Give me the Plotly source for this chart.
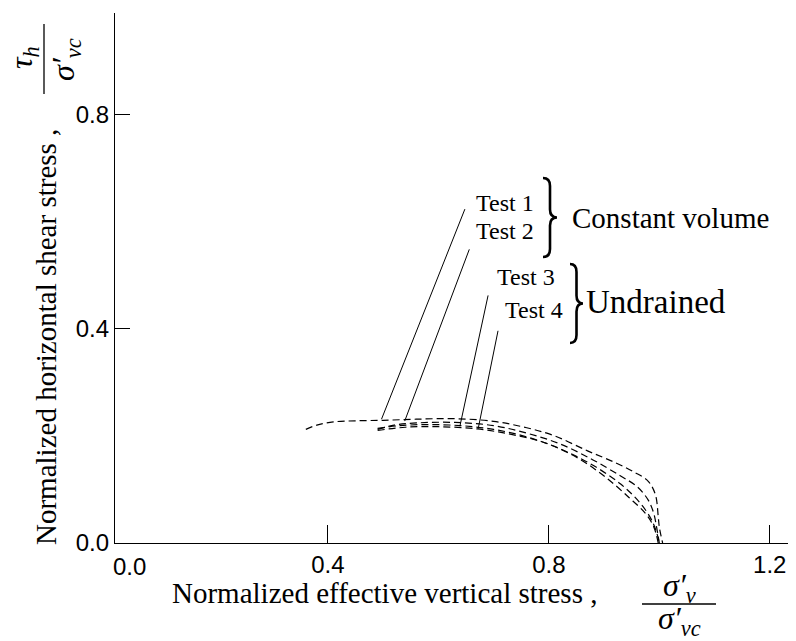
import plotly.graph_objects as go

# ---- data ----
test1_x = [0.36, 0.38, 0.41, 0.45, 0.50, 0.56, 0.63, 0.70, 0.76, 0.81, 0.87, 0.92, 0.955, 0.98, 0.993, 0.998, 1.0, 1.006]
test1_y = [0.212, 0.220, 0.226, 0.228, 0.229, 0.231, 0.232, 0.227, 0.215, 0.200, 0.172, 0.150, 0.132, 0.115, 0.090, 0.050, 0.030, 0.0]
test2_x = [0.49, 0.52, 0.56, 0.63, 0.70, 0.76, 0.82, 0.88, 0.93, 0.96, 0.98, 0.99, 0.995, 1.0]
test2_y = [0.212, 0.220, 0.224, 0.225, 0.219, 0.205, 0.185, 0.155, 0.125, 0.105, 0.080, 0.055, 0.030, 0.0]
test3_x = [0.49, 0.53, 0.58, 0.64, 0.70, 0.76, 0.82, 0.88, 0.93, 0.965, 0.985, 0.995, 1.0]
test3_y = [0.214, 0.219, 0.221, 0.219, 0.212, 0.198, 0.176, 0.145, 0.110, 0.075, 0.045, 0.020, 0.0]
test4_x = [0.49, 0.54, 0.60, 0.67, 0.73, 0.79, 0.85, 0.90, 0.945, 0.975, 0.99, 0.998]
test4_y = [0.210, 0.216, 0.217, 0.213, 0.203, 0.188, 0.160, 0.125, 0.085, 0.055, 0.030, 0.0]

test_labels = ["Test 1", "Test 2", "Test 3", "Test 4"]
leader_start_x = [0.497, 0.539, 0.639, 0.672]
leader_start_y = [0.231, 0.2275, 0.218, 0.213]
leader_end_x = [0.648, 0.656, 0.690, 0.708]
leader_end_y = [0.623, 0.548, 0.462, 0.396]
label_x = [0.720, 0.720, 0.758, 0.773]
label_y = [0.634, 0.583, 0.496, 0.434]

group_labels = ["Constant volume", "Undrained"]

x_ticks = [0.4, 0.8, 1.2]
y_ticks = [0.0, 0.4, 0.8]

X_RANGE = [0.0145, 1.233]
Y_RANGE = [0.0, 0.989]

# ---- figure ----
W, H = 796, 641
L, R, T, B = 115, 8, 13, 98
PW, PH = W - L - R, H - T - B
serif = "Liberation Serif"
sans = "Liberation Sans"


def px(xp):
    return (xp - L) / PW


def py(yp):
    return (H - B - yp) / PH


def note(xp, yp, text, size, xa="center", ya="middle", angle=0, family=serif):
    fig.add_annotation(x=px(xp), y=py(yp), xref="paper", yref="paper", text=text, showarrow=False,
                       xanchor=xa, yanchor=ya, textangle=angle,
                       font=dict(family=family, size=size, color="black"))


def brace_path(x_left, y_top, x_tip, y_bot):
    h = y_bot - y_top
    ym = (y_top + y_bot) / 2
    xm = x_left + (x_tip - x_left) * 0.5
    r = h * 0.1
    pts = [
        ("M", [(x_left, y_top)]),
        ("Q", [(xm, y_top), (xm, y_top + r)]),
        ("L", [(xm, ym - r)]),
        ("Q", [(xm, ym), (x_tip, ym)]),
        ("Q", [(xm, ym), (xm, ym + r)]),
        ("L", [(xm, y_bot - r)]),
        ("Q", [(xm, y_bot), (x_left, y_bot)]),
    ]
    s = ""
    for cmd, ps in pts:
        s += cmd + " " + " ".join(f"{px(a):.5f},{py(b):.5f}" for a, b in ps) + " "
    return s.strip()


fig = go.Figure()
dash = "7px,4px"
for xs, ys in [(test1_x, test1_y), (test2_x, test2_y), (test3_x, test3_y), (test4_x, test4_y)]:
    fig.add_trace(go.Scatter(x=xs, y=ys, mode="lines",
                             line=dict(color="black", width=1.2, dash=dash, shape="spline"),
                             showlegend=False, hoverinfo="skip"))

for i in range(4):
    fig.add_trace(go.Scatter(x=[leader_start_x[i], leader_end_x[i]], y=[leader_start_y[i], leader_end_y[i]],
                             mode="lines", line=dict(color="black", width=1), showlegend=False, hoverinfo="skip"))
    fig.add_annotation(x=label_x[i], y=label_y[i], xref="x", yref="y", text=test_labels[i], showarrow=False,
                       xanchor="center", yanchor="middle",
                       font=dict(family=serif, size=24, color="black"))

# braces and group labels
fig.add_shape(type="path", xref="paper", yref="paper", path=brace_path(543, 178, 557, 257),
              line=dict(color="black", width=2.6))
fig.add_shape(type="path", xref="paper", yref="paper", path=brace_path(570, 264, 583, 343),
              line=dict(color="black", width=2.6))
note(570, 218, group_labels[0], 29, xa="left")
note(584, 302, group_labels[1], 33, xa="left")

# x tick label 0.0
note(129, 566, "0.0", 24, family=sans)

# x axis title
note(170, 593, "Normalized effective vertical stress ,", 29, xa="left")
note(679, 587, "<i>σ′<sub>v</sub></i>", 32)
fig.add_shape(type="line", xref="paper", yref="paper", x0=px(642), x1=px(716), y0=py(604), y1=py(604),
              line=dict(color="black", width=1.3))
note(679, 620, "<i>σ′<sub>vc</sub></i>", 32)

# y axis title (rotated)
note(46, 547, "Normalized horizontal shear stress ,", 29, ya="bottom", angle=-90)
note(24, 58, "<i>τ<sub>h</sub></i>", 32, angle=-90)
fig.add_shape(type="line", xref="paper", yref="paper", x0=px(44), x1=px(44), y0=py(24), y1=py(94),
              line=dict(color="black", width=1.3))
note(66, 60, "<i>σ′<sub>vc</sub></i>", 32, angle=-90)

fig.update_xaxes(range=X_RANGE, tickvals=x_ticks, ticktext=[f"{v:.1f}" for v in x_ticks],
                 ticks="inside", ticklen=18, tickwidth=1, tickcolor="black",
                 showline=True, linecolor="black", linewidth=1.3, showgrid=False, zeroline=False,
                 tickfont=dict(family=sans, size=24, color="black"))
fig.update_yaxes(range=Y_RANGE, tickvals=y_ticks, ticktext=[f"{v:.1f}" for v in y_ticks],
                 ticks="inside", ticklen=15, tickwidth=1, tickcolor="black",
                 showline=True, linecolor="black", linewidth=1.3, showgrid=False, zeroline=False,
                 tickfont=dict(family=sans, size=24, color="black"))

fig.update_layout(width=W, height=H, margin=dict(l=L, r=R, t=T, b=B, autoexpand=False),
                  plot_bgcolor="white", paper_bgcolor="white")

fig.write_html("out.html")
